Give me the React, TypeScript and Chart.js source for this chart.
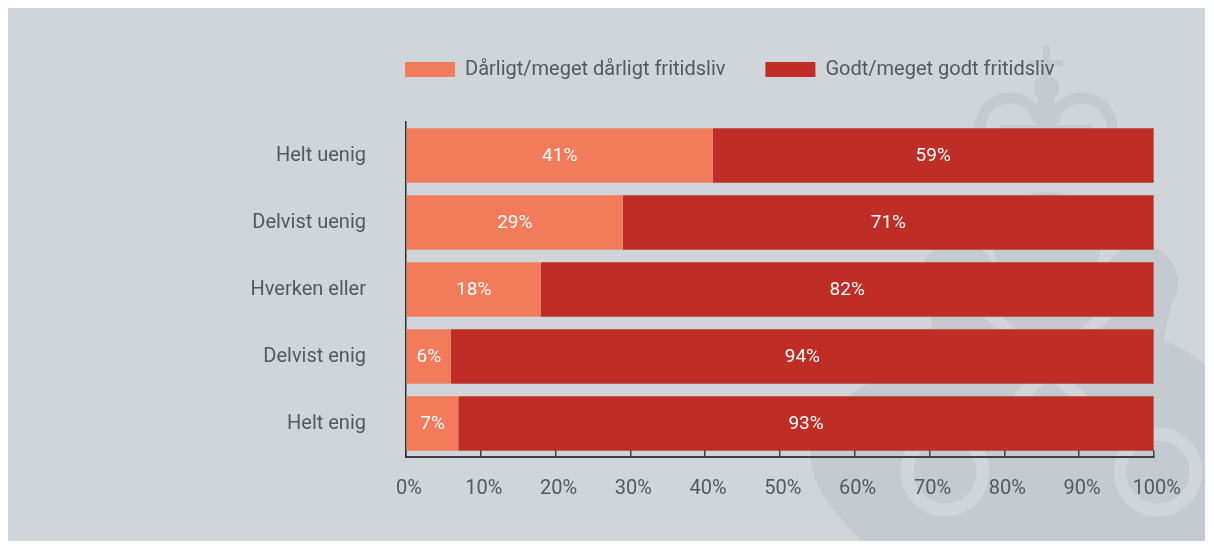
import React, { useEffect, useRef } from "react";
import { Chart, registerables } from "chart.js";

Chart.register(...registerables);

const categories = ["Helt uenig", "Delvist uenig", "Hverken eller", "Delvist enig", "Helt enig"];
const poorValues = [41, 29, 18, 6, 7];
const goodValues = [59, 71, 82, 94, 93];
const seriesLabels = ["Dårligt/meget dårligt fritidsliv", "Godt/meget godt fritidsliv"];
const xTickLabels = ["0%", "10%", "20%", "30%", "40%", "50%", "60%", "70%", "80%", "90%", "100%"];

const BG = "#cfd5d8";
const WM = "#c4cbd0";
const ORANGE = "#f27b5c";
const RED = "#bf2e26";
const TEXT = "#54595e";
const AXIS = "#3f4144";
const FONT = "Roboto, 'Liberation Sans', sans-serif";

const LEG_PAD = 40;
const OX = 8; // panel origin on page
const OY = 7;

const backgroundPlugin = {
  id: "panelBackground",
  beforeDraw(chart: any) {
    const ctx = chart.ctx as CanvasRenderingContext2D;
    ctx.save();
    ctx.fillStyle = BG;
    ctx.fillRect(0, 0, chart.width, chart.height);
    ctx.translate(-OX, -OY);
    ctx.fillStyle = WM;
    ctx.strokeStyle = WM;
    // crown: cross
    ctx.fillRect(1043, 46, 7, 34);
    ctx.fillRect(1029, 60, 34, 6);
    ctx.beginPath();
    ctx.arc(1046, 88, 13, 0, Math.PI * 2);
    ctx.fill();
    ctx.beginPath();
    ctx.ellipse(1046, 104, 9, 8, 0, 0, Math.PI * 2);
    ctx.fill();
    ctx.beginPath();
    ctx.ellipse(1046, 118, 14, 9, 0, 0, Math.PI * 2);
    ctx.fill();
    ctx.lineWidth = 11;
    ctx.beginPath();
    ctx.arc(1010, 128, 30, Math.PI, -0.25);
    ctx.stroke();
    ctx.beginPath();
    ctx.arc(1082, 128, 30, Math.PI + 0.25, Math.PI * 2);
    ctx.stroke();
    ctx.fillRect(1000, 125, 92, 30);
    // heart body
    ctx.beginPath();
    ctx.arc(1047, 245, 53, 0, Math.PI * 2);
    ctx.fill();
    ctx.beginPath();
    ctx.arc(958, 282, 40, 0, Math.PI * 2);
    ctx.fill();
    ctx.beginPath();
    ctx.arc(1140, 283, 38, 0, Math.PI * 2);
    ctx.fill();
    ctx.beginPath();
    ctx.moveTo(930, 300);
    ctx.lineTo(1047, 270);
    ctx.lineTo(1172, 300);
    ctx.lineTo(1160, 360);
    ctx.lineTo(935, 380);
    ctx.closePath();
    ctx.fill();
    // big blob
    ctx.beginPath();
    ctx.moveTo(870, 549);
    ctx.bezierCurveTo(830, 510, 805, 480, 812, 445);
    ctx.bezierCurveTo(830, 370, 1000, 320, 1150, 338);
    ctx.bezierCurveTo(1175, 341, 1195, 355, 1214, 372);
    ctx.lineTo(1214, 549);
    ctx.closePath();
    ctx.fill();
    // light ribbon
    ctx.strokeStyle = BG;
    ctx.lineWidth = 13;
    ctx.beginPath();
    ctx.arc(945, 472, 38, 0, Math.PI * 2);
    ctx.stroke();
    ctx.beginPath();
    ctx.arc(1158, 472, 38, 0, Math.PI * 2);
    ctx.stroke();
    ctx.beginPath();
    ctx.moveTo(972, 445);
    ctx.lineTo(1120, 300);
    ctx.moveTo(1131, 445);
    ctx.lineTo(975, 300);
    ctx.stroke();
    ctx.restore();
  },
};

const barLabelPlugin = {
  id: "barLabels",
  afterDatasetsDraw(chart: any) {
    const ctx = chart.ctx as CanvasRenderingContext2D;
    ctx.save();
    ctx.fillStyle = "#ffffff";
    ctx.font = `19px ${FONT}`;
    ctx.textAlign = "center";
    ctx.textBaseline = "middle";
    chart.data.datasets.forEach((ds: any, di: number) => {
      const meta = chart.getDatasetMeta(di);
      meta.data.forEach((el: any, i: number) => {
        const p = el.getProps(["x", "y", "base"], true);
        ctx.fillText(`${ds.data[i]}%`, (p.x + p.base) / 2, p.y + 1);
      });
    });
    ctx.restore();
  },
};

const legendPlacePlugin = {
  id: "legendPlace",
  beforeInit(chart: any) {
    const lg = chart.legend;
    if (lg) {
      const orig = lg.fit;
      lg.fit = function () {
        orig.call(this);
        this.height = 122 - OY - (52.5 - LEG_PAD);
      };
    }
  },
  afterLayout(chart: any) {
    const lg = chart.legend;
    if (lg) {
      const w = lg.right - lg.left;
      lg.left = 405 - OX - LEG_PAD;
      lg.right = lg.left + w + 200;
    }
  },
};

export default function App() {
  const ref = useRef<HTMLCanvasElement | null>(null);
  useEffect(() => {
    if (!ref.current) return;
    const chart = new Chart(ref.current, {
      type: "bar",
      data: {
        labels: categories,
        datasets: [
          { label: seriesLabels[0], data: poorValues, backgroundColor: ORANGE, borderWidth: 0 },
          { label: seriesLabels[1], data: goodValues, backgroundColor: RED, borderWidth: 0 },
        ],
      },
      options: {
        indexAxis: "y",
        animation: false,
        responsive: true,
        maintainAspectRatio: false,
        layout: { padding: { left: 0, right: 1197 - (1154 - OX), top: 52.5 - LEG_PAD, bottom: 0 } },
        datasets: { bar: { barPercentage: 0.9, categoryPercentage: 0.9 } },
        plugins: {
          legend: {
            position: "top",
            align: "start",
            fullSize: false,
            labels: {
              boxWidth: 50,
              boxHeight: 15,
              padding: LEG_PAD,
              color: TEXT,
              font: { family: FONT, size: 20 },
            },
          },
          tooltip: { enabled: false },
        },
        scales: {
          x: {
            stacked: true,
            min: 0,
            max: 100,
            afterFit: (s: any) => { s.height = 534 - (457 - OY); },
            ticks: {
              stepSize: 10,
              padding: 27,
              labelOffset: 3,
              color: TEXT,
              font: { family: FONT, size: 20 },
              callback: (_v: any, i: number) => xTickLabels[i],
            },
            grid: { display: true, drawOnChartArea: false, drawTicks: true, tickLength: -7, color: AXIS, lineWidth: 1.5 },
            border: { display: true, color: AXIS, width: 2 },
          },
          y: {
            stacked: true,
            afterFit: (s: any) => { s.width = 406 - OX; },
            ticks: { padding: 40, color: TEXT, font: { family: FONT, size: 20 } },
            grid: { display: true, drawOnChartArea: false, drawTicks: false, color: "rgba(0,0,0,0)" },
            border: { display: true, color: "#2e3033", width: 1.5 },
          },
        },
      },
      plugins: [backgroundPlugin, barLabelPlugin, legendPlacePlugin],
    });
    return () => chart.destroy();
  }, []);
  return (
    <div style={{ width: 1197, height: 534, marginTop: -1, position: "relative" }}>
      <canvas ref={ref} />
    </div>
  );
}
